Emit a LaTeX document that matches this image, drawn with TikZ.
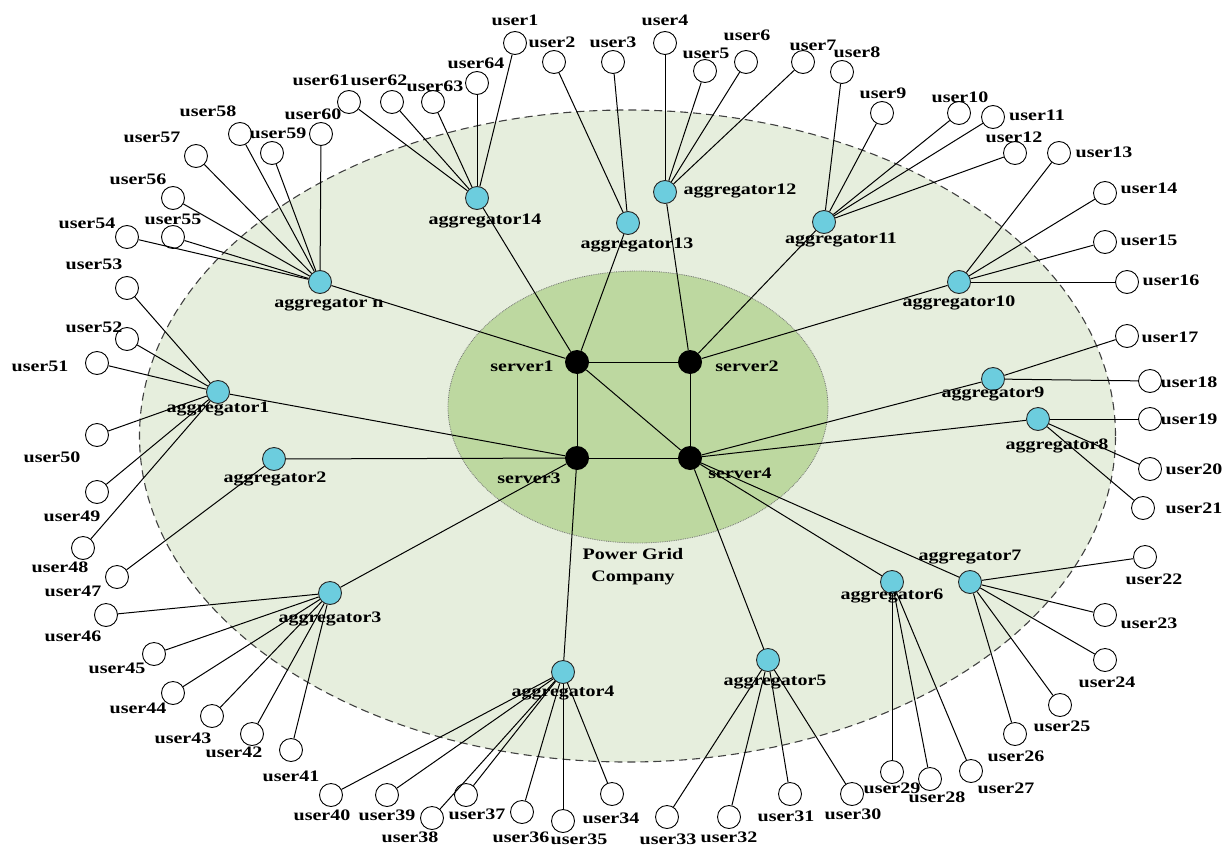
\documentclass[tikz,border=0pt]{standalone}
\usepackage{fontspec}
\newfontfamily\lblfont{Liberation Serif}[FakeStretch=1.25]
\definecolor{outerfill}{RGB}{230,238,221}
\definecolor{innerfill}{RGB}{189,216,160}
\definecolor{aggfill}{RGB}{108,205,222}
\begin{document}
\begin{tikzpicture}[x=1pt,y=-1pt,
  user/.style={circle,draw=black,fill=white,line width=0.9pt,minimum size=23pt,inner sep=0pt},
  agg/.style={circle,draw=black!85,fill=aggfill,line width=0.9pt,minimum size=23pt,inner sep=0pt},
  server/.style={circle,fill=black,minimum size=24pt,inner sep=0pt},
  lbl/.style={font=\lblfont\bfseries\fontsize{16}{22}\selectfont,inner sep=0pt,align=center},
  link/.style={line width=1pt,draw=black}]
\useasboundingbox (0,0) rectangle (1230,848);
% zones
\draw[fill=outerfill,draw=black!75,line width=1.1pt,dash pattern=on 8pt off 5pt]
  (627.5,436) ellipse [x radius=488pt, y radius=326pt];
\draw[fill=innerfill,draw=black!55,line width=0.8pt,densely dotted]
  (638,407) ellipse [x radius=190pt, y radius=136pt];
% servers
\node[server] (s1) at (577,362) {};
\node[server] (s2) at (690,362) {};
\node[server] (s3) at (577,458) {};
\node[server] (s4) at (690,458) {};
% aggregators
\foreach \n/\x/\y in {1/218/392,2/274/459,3/330/593,4/563/672,5/768/660,6/892/582,
  7/970/582,8/1038/419,9/993/379,10/959/282,11/824/222,12/665/192,13/628/223,14/477/198,15/320/282}
  {\node[agg] (a\n) at (\x,\y) {};}
% users
\foreach \n/\x/\y in {1/515/43,2/554/62,3/613/62,4/665/43,5/705/71,6/746/62,7/803/62,8/842/72,
  9/882/113,10/959/113,11/993/117,12/1015/153,13/1059/153,14/1105/193,15/1105/242,16/1127/282,
  17/1127/336,18/1150/381,19/1150/419,20/1150/469,21/1143/508,22/1145/557,23/1105/615,24/1105/660,
  25/1060/705,26/1015/734,27/971/771,28/930/779,29/892/772,30/852/794,31/790/794,32/729/817,
  33/667/817,34/612/794,35/563/821,36/522/812,37/466/795,38/432/818,39/387/795,40/331/795,
  41/291/750,42/252/734,43/212/716,44/173/693,45/154/654,46/106/615,47/117/577,48/83/548,
  49/97/492,50/97/435,51/97/363,52/127/339,53/127/288,54/127/237,55/173/237,56/173/198,
  57/196/156,58/240/134,59/272/153,60/321/134,61/349/102,62/392/102,63/433/102,64/477/83}
  {\node[user] (u\n) at (\x,\y) {};}
% server links
\draw[link] (s1) -- (s2);
\draw[link] (s1) -- (s3);
\draw[link] (s2) -- (s4);
\draw[link] (s3) -- (s4);
\draw[link] (s1) -- (s4);
% aggregator-server links
\foreach \a/\s in {15/1,14/1,13/1,12/2,11/2,10/2,9/4,8/4,7/4,6/4,5/4,4/3,3/3,2/3,1/3}
  {\draw[link] (a\a) -- (s\s);}
% aggregator-user links
\foreach \a/\u in {14/61,14/62,14/63,14/64,14/1,13/2,13/3,12/4,12/5,12/6,12/7,
  11/8,11/9,11/10,11/11,11/12,10/13,10/14,10/15,10/16,9/17,9/18,8/19,8/20,8/21,
  7/22,7/23,7/24,7/25,7/26,6/27,6/28,6/29,5/30,5/31,5/32,5/33,
  4/34,4/35,4/36,4/37,4/38,4/39,4/40,3/41,3/42,3/43,3/44,3/45,3/46,2/47,
  1/48,1/49,1/50,1/51,1/52,1/53,15/54,15/55,15/56,15/57,15/58,15/59,15/60}
  {\draw[link] (a\a) -- (u\u);}
% server labels
\node[lbl] (ts1) at (522,366) {server1};
\node[lbl] (ts2) at (747,366) {server2};
\node[lbl] (ts3) at (529,478) {server3};
\node[lbl] (ts4) at (740,473) {server4};
\node[lbl] (tpgc) at (633,567) {Power Grid\\Company};
% aggregator labels
\foreach \n/\t/\x/\y in {1/aggregator1/218/409,2/aggregator2/275/479,3/aggregator3/330/619,
  4/aggregator4/563/693,5/aggregator5/775/682,6/aggregator6/892/596,7/aggregator7/970/557,
  8/aggregator8/1057/446,9/aggregator9/993/394,10/aggregator10/959/303,11/aggregator11/841/240,
  12/aggregator12/740/191,13/aggregator13/637/245,14/aggregator14/485/221,15/aggregator n/329/305}
  {\node[lbl] (ta\n) at (\x,\y) {\t};}
% user labels
\foreach \n/\x/\y in {1/515/20,2/552/42,3/613/42,4/665/20,5/706/53,6/747/35,7/813/45,8/857/52,
  9/883/93,10/960/97,11/1037/115,12/1014/137,13/1104/152,14/1149/188,15/1149/240,16/1171/280,
  17/1170/337,18/1189/382,19/1189/419,20/1194/469,21/1194/508,22/1154/579,23/1149/623,24/1107/682,
  25/1062/726,26/1016/756,27/1006/788,28/937/797,29/892/788,30/853/814,31/786/816,32/729/837,
  33/668/839,34/611/818,35/579/839,36/521/837,37/477/814,38/410/837,39/387/815,40/322/815,
  41/291/776,42/234/752,43/183/738,44/138/708,45/117/668,46/73/636,47/73/591,48/60/567,
  49/72/516,50/52/457,51/40/366,52/94/327,53/94/264,54/87/223,55/173/219,56/138/179,
  57/152/137,58/208/111,59/278/133,60/313/114,61/321/80,62/379/80,63/435/86,64/476/63}
  {\node[lbl] (tu\n) at (\x,\y) {user\n};}
\end{tikzpicture}
\end{document}
